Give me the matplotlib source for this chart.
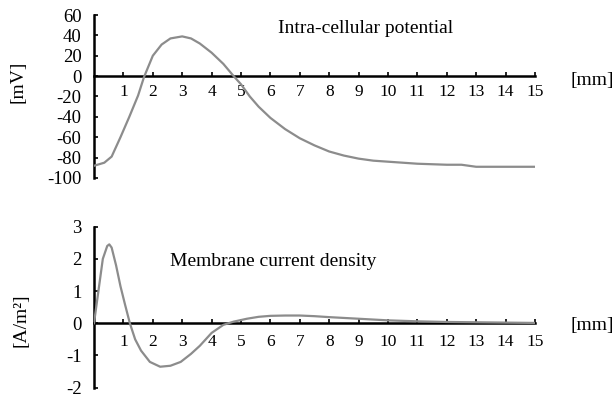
import matplotlib
matplotlib.use('Agg')
import matplotlib.pyplot as plt

plt.rcParams['font.family'] = ['Liberation Serif', 'DejaVu Serif']
plt.rcParams['axes.unicode_minus'] = False

# intra-cellular potential [mV] vs distance [mm]
x_pot = [0, 0.35, 0.6, 0.9, 1.2, 1.5, 1.7, 2.0, 2.3, 2.6, 3.0, 3.3, 3.6, 4.0, 4.4,
         4.75, 5.0, 5.3, 5.6, 6.0, 6.5, 7.0, 7.5, 8.0, 8.5, 9.0, 9.5, 10, 11, 12,
         12.5, 13, 14, 15]
pot = [-88, -85, -79, -60, -40, -19, -1, 20, 31, 37, 39, 37, 32, 23, 12,
       0, -8, -20, -30, -41, -52, -61, -68, -74, -78, -81, -83, -84, -86, -87,
       -87, -89, -89, -89]

# membrane current density [A/m^2]
x_cur = [0, 0.15, 0.3, 0.45, 0.52, 0.6, 0.75, 0.9, 1.05, 1.22, 1.4, 1.6, 1.9, 2.25,
         2.6, 2.95, 3.3, 3.6, 4.0, 4.4, 4.75, 5.2, 5.6, 6.0, 6.5, 7.0, 7.5, 8.0,
         9.0, 10, 11, 12, 13, 14, 15]
cur = [0, 1.0, 2.0, 2.4, 2.45, 2.35, 1.8, 1.15, 0.6, 0.0, -0.5, -0.85, -1.2, -1.35,
       -1.32, -1.2, -0.95, -0.7, -0.3, -0.05, 0.05, 0.14, 0.2, 0.23, 0.24, 0.24, 0.22, 0.19,
       0.14, 0.09, 0.06, 0.04, 0.03, 0.02, 0.01]

x_ticks = list(range(1, 16))
pot_ticks = [60, 40, 20, 0, -20, -40, -60, -80, -100]
cur_ticks = [3, 2, 1, 0, -1, -2]

line_col = '#8c8c8c'
xtick_fs = 12.5
ytick_fs = 13.5
label_fs = 14

W, H = 614, 398
fig = plt.figure(figsize=(6.14, 3.98), dpi=100)
ax1 = fig.add_axes([0.1531, 0.5528, 0.7182, 0.4095])
ax2 = fig.add_axes([0.1531, 0.026, 0.7182, 0.4045])


def style_axis(ax, yticks, ylim, xpad):
    ax.set_xlim(0, 15)
    ax.set_ylim(*ylim)
    for s in ['top', 'right']:
        ax.spines[s].set_visible(False)
    ax.spines['bottom'].set_position(('data', 0))
    ax.spines['bottom'].set_linewidth(1.8)
    ax.spines['left'].set_linewidth(1.8)
    ax.set_xticks(x_ticks)
    ax.set_xticklabels([str(t) for t in x_ticks])
    ax.set_yticks(yticks)
    ax.tick_params(axis='x', direction='in', length=3, width=1.2, pad=xpad, labelsize=xtick_fs)
    ax.tick_params(axis='y', direction='in', length=3, width=1.2, pad=9, labelsize=ytick_fs)
    ax.patch.set_visible(False)


ax1.plot(x_pot, pot, color=line_col, lw=1.6, zorder=3)
style_axis(ax1, pot_ticks, (-100, 60), 6)
ax1.text(6.26, 42.3, 'Intra-cellular potential', fontsize=label_fs, ha='left', va='baseline')
ax1.text(16.94, -4, '[mm]', fontsize=label_fs, ha='center', va='center', clip_on=False)
fig.text(18 / W, 1 - 82 / H, '[mV]', fontsize=label_fs, rotation=90, ha='center', va='center')

ax2.plot(x_cur, cur, color=line_col, lw=1.6, zorder=3)
style_axis(ax2, cur_ticks, (-2, 3), 8)
ax2.text(2.58, 1.78, 'Membrane current density', fontsize=label_fs, ha='left', va='baseline')
ax2.text(16.94, -0.06, '[mm]', fontsize=label_fs, ha='center', va='center', clip_on=False)
fig.text(21 / W, 1 - 320 / H, '[A/m²]', fontsize=label_fs, rotation=90, ha='center', va='center')

fig.savefig('out.png', dpi=100)
